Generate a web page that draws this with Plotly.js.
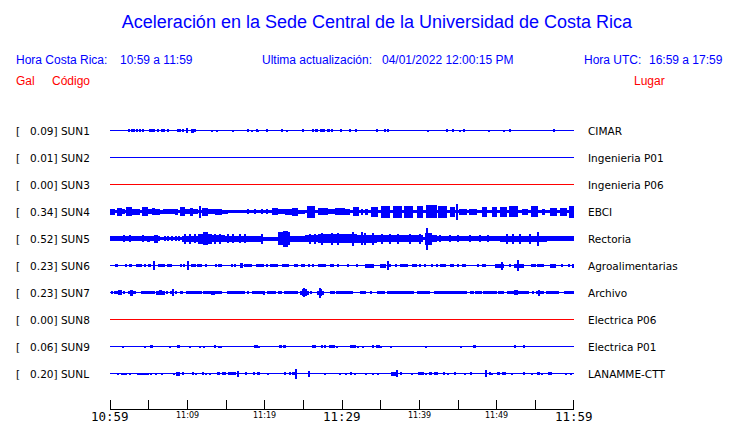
<!DOCTYPE html>
<html>
<head>
<meta charset="utf-8">
<script src="https://cdn.plot.ly/plotly-3.0.1.min.js"></script>
<style>html,body{margin:0;padding:0;background:#fff;}</style>
</head>
<body>
<div id="chart" style="width:740px;height:423px;"></div>
<script>
// ---- data ----
const stations = ['SUN1','SUN2','SUN3','SUN4','SUN5','SUN6','SUN7','SUN8','SUN9','SUNL'];
const galValues = ['0.09','0.01','0.00','0.34','0.52','0.23','0.23','0.00','0.06','0.20'];
const places = ['CIMAR','Ingenieria P01','Ingenieria P06','EBCI','Rectoria','Agroalimentarias','Archivo','Electrica P06','Electrica P01','LANAMME-CTT'];
const tickMarks = [0,5,10,15,20,25,30,35,40,45,50,55,60];          // minutes after 10:59
const tickMinutes = [0,10,20,30,40,50,60];
const tickLabels = ['10:59','11:09','11:19','11:29','11:39','11:49','11:59'];
const bigLabels = ['10:59','11:29','11:59'];

// signal activity: [minute, half-amplitude] or [from minute, to minute, half-amplitude]
const SUN1 = [[2.50,1.5],[2.80,1.5],[3.06,1.5],[3.53,1.5],[3.92,1.5],[4.31,1.5],[5.09,5.82,1.5],[6.25,1.5],[6.77,1.5],[7.03,1.5],[7.46,1.5],[8.84,1.5],[9.05,1.5],[9.40,1.5],[9.91,10.13,2.5],[10.47,10.82,2],[11.03,1.5],[13.23,1],[13.84,1],[15.95,1],[17.80,1.5],[18.36,1],[18.97,1.5],[19.14,1],[20.26,1.5],[22.20,1.5],[22.93,1],[25.00,1.5],[26.21,1.5],[26.55,26.85,1.5],[27.16,27.80,1.5],[28.15,1.5],[28.32,1.5],[28.75,1.5],[29.78,30.04,1.5],[31.08,1.5],[31.81,1.5],[34.57,1.5],[35.56,1.5],[35.91,1.5],[41.16,1],[43.62,1.5],[44.40,1.5],[45.30,1],[45.82,1.5],[49.05,1],[50.99,1],[51.72,1.5],[57.46,1.5]];
const SUN2 = [];
const SUN3 = [];
const SUN4 = [[0,60,1.5],[0,0.65,3],[0.86,1.51,4],[1.51,1.94,2.5],[2.03,2.80,4.5],[2.80,3.15,3],[3.15,3.88,3],[4.09,4.96,4.5],[4.96,5.39,2.5],[5.39,5.82,3.5],[5.82,6.47,3],[6.47,6.90,2],[6.90,7.54,2.5],[7.54,8.41,2.5],[8.41,8.84,3],[9.05,9.70,4.5],[9.70,10.34,2.5],[10.34,10.78,4],[10.78,11.42,2.5],[11.68,6],[11.85,12.72,4],[12.72,13.58,2.5],[13.58,14.44,3],[14.44,15.30,2],[17.89,2.5],[18.75,2.5],[19.61,2.5],[20.26,2.5],[20.91,21.77,3.5],[21.77,22.63,2.5],[22.63,23.49,3],[23.49,24.35,4],[24.35,25.22,2],[25.43,26.51,6],[26.94,28.23,3.5],[28.23,29.09,2.5],[29.09,30.39,3.5],[30.39,31.03,3],[31.38,32.24,4.5],[32.54,32.76,3],[32.97,33.41,3],[33.71,34.70,5],[35.00,36.21,6],[36.64,37.72,6],[38.02,39.22,6],[39.66,40.52,6],[40.86,42.24,6.5],[42.46,43.53,6],[43.97,44.61,5],[44.91,8],[45.17,46.12,3],[46.47,47.41,3],[48.06,48.71,5],[49.35,50.00,5],[50.43,51.29,5],[51.64,52.80,5.5],[53.23,54.09,3],[54.40,55.39,5.5],[55.82,56.25,3],[56.90,57.76,4],[58.19,59.05,4],[59.40,60,6]];
const SUN5 = [[0,60,1.5],[0,6.47,2.5],[1.85,3.5],[2.59,3.5],[4.31,3.5],[4.74,5.17,3],[5.73,6.25,4],[7.11,2.5],[7.54,2.5],[7.97,2.5],[8.49,2.5],[8.92,2.5],[9.27,11.42,3],[9.70,5],[10.34,5],[10.99,4.5],[11.42,13.15,5],[12.07,12.72,6.5],[13.15,14.87,3.5],[13.58,5],[14.22,5],[14.87,18.32,3],[15.22,4.5],[15.95,4.5],[16.81,4.5],[17.46,4.5],[18.32,19.61,3],[19.61,5],[19.61,21.77,2],[21.77,23.28,6.5],[22.41,23.06,8],[23.28,25.22,3],[25.22,26.94,3.5],[25.86,5],[26.51,5],[26.94,30.60,4.5],[27.37,6],[28.66,6],[29.53,6],[30.60,31.90,4.5],[31.47,7],[32.54,6.5],[32.97,6],[31.90,34.48,4],[34.05,6],[34.48,40.52,3.5],[35.13,5],[36.21,5],[37.28,5],[38.79,5],[40.09,5],[40.73,41.59,6],[41.03,11],[41.59,42.24,3.5],[42.24,50.43,2.5],[42.67,3.5],[43.97,3.5],[45.04,3.5],[46.55,3.5],[47.84,3.5],[48.92,3.5],[50.43,56.47,3],[51.29,5],[52.16,5],[53.02,5],[54.31,5],[55.39,7],[56.47,60,2.5]];
const SUN6 = [[0.65,1.08,1.5],[2.03,2.20,1.5],[2.46,2.80,1.5],[3.36,4.09,1.5],[4.44,4.61,1.5],[4.96,5.26,1.5],[5.65,4.3],[6.16,7.11,1.5],[7.37,7.97,1.5],[9.09,9.27,1.5],[9.53,9.70,1.5],[10.13,4.3],[10.47,11.08,1.5],[11.25,11.85,1.5],[12.28,12.54,1.5],[13.58,13.75,1.5],[14.01,14.18,1.5],[14.35,14.53,1.5],[15.65,15.82,1.5],[16.08,16.34,1.5],[16.81,17.24,2.2],[17.37,18.41,1.5],[18.84,19.87,1.5],[20.22,20.47,1.5],[20.73,21.77,1.5],[22.28,23.15,1.5],[23.75,24.27,1.5],[24.70,25.22,1.5],[25.73,25.91,1.5],[26.16,26.34,1.5],[26.85,27.97,1.5],[28.49,28.92,1.5],[29.44,29.61,1.5],[30.65,30.91,1.5],[31.85,32.11,1.5],[32.97,34.09,2],[34.96,35.73,2],[35.91,4.3],[36.08,36.25,1.5],[36.94,37.11,1.5],[37.54,38.49,1.5],[39.01,39.70,1.5],[40.04,40.22,1.5],[40.56,40.91,1.5],[41.51,41.77,1.5],[42.11,42.37,1.5],[42.63,43.41,1.5],[44.01,44.44,1.5],[44.96,45.13,1.5],[45.56,45.99,1.5],[47.46,47.72,1.5],[48.15,48.66,1.5],[49.78,50.99,2],[50.73,4],[51.59,51.85,1.5],[52.28,53.49,2],[52.80,5.5],[54.44,55.04,1.5],[55.22,56.16,1.5],[56.94,57.72,2],[58.32,58.58,1.5],[59.18,59.44,1.5],[59.90,2]];
const SUN7 = [[0.13,0.30,1.5],[0.56,0.99,1.5],[1.08,1.51,2.5],[1.68,1.94,1.5],[2.28,3.32,1.5],[2.60,3.00,3],[4.01,5.82,1.5],[5.91,7.11,2],[6.30,6.70,2.5],[7.37,7.54,1.5],[7.80,7.97,1.5],[8.19,3.5],[8.49,8.66,1.5],[9.09,9.44,1.5],[9.87,11.85,1.5],[12.03,14.44,1.5],[13.06,13.58,2],[15.13,17.46,1.5],[17.80,17.97,1.5],[18.32,19.78,1.5],[19.96,2],[20.30,21.51,1.5],[21.77,22.28,1.5],[22.54,24.35,1.5],[24.53,25.73,2],[24.78,25.47,3.5],[25.05,25.20,4.5],[25.91,26.16,1.5],[26.77,27.63,2],[27.00,27.40,3.5],[27.20,5],[28.49,29.09,1.5],[29.27,31.42,1.5],[32.28,33.15,1.5],[33.58,33.92,1.5],[34.53,35.56,1.5],[35.82,39.27,1.5],[39.70,41.34,1.5],[41.85,46.16,1.5],[46.51,47.03,1.5],[47.20,48.06,1.5],[48.23,50.04,1.5],[50.22,50.91,1.5],[51.34,54.18,1.5],[52.28,52.80,2.5],[54.61,54.78,1.5],[55.04,56.08,1.5],[55.30,55.60,3],[56.34,58.06,1.5],[58.66,60,1.5]];
const SUN8 = [];
const SUN9 = [[1.68,1],[4.53,1],[5.17,5.56,1.5],[7.80,1],[8.66,9.01,1.5],[10.39,1],[11.59,1],[12.11,1],[13.49,13.75,1.5],[14.09,1],[14.35,1],[18.66,19.09,1.5],[19.27,1],[21.85,22.20,1.5],[22.37,22.72,1.5],[26.16,26.59,1.5],[27.37,27.54,1.5],[27.80,27.97,1.5],[28.32,29.09,1.5],[29.35,1],[31.08,31.77,1.5],[32.03,1],[32.72,1],[33.92,34.09,1.5],[34.35,34.87,1.5],[35.04,1],[36.34,1],[40.91,0.8],[45.39,1],[46.94,47.37,1.5],[52.28,52.46,1.5],[53.49,53.66,1.2]];
const SUNL = [[1.08,1],[1.51,1],[1.85,1],[2.11,1],[2.63,1],[3.66,1],[3.92,1],[4.18,1],[4.44,1],[4.70,1],[4.96,1],[5.30,1],[5.99,1],[6.77,1],[8.32,1],[8.58,9.01,2],[9.44,1.5],[10.65,10.82,1.5],[11.16,1],[11.94,12.20,1.5],[12.46,1],[12.89,1],[13.84,14.27,1.5],[14.53,15.04,1.5],[15.30,16.25,1.5],[16.59,3],[17.46,17.63,1.5],[18.58,18.75,1.5],[19.01,19.44,1.5],[20.39,1],[22.46,22.72,1.5],[23.15,23.32,1.5],[23.58,24.18,1.5],[24.01,5],[25.73,3],[27.80,1],[29.78,1],[30.56,1],[31.08,31.25,1.5],[31.68,1],[33.06,1],[34.01,1],[34.70,1],[36.34,36.94,2],[37.11,3.5],[37.46,37.80,1.5],[39.01,1],[39.87,40.56,1.5],[40.82,1],[41.25,41.59,1.5],[41.94,42.37,1.5],[43.15,43.32,1.5],[43.75,1],[44.61,44.78,1.5],[45.91,1],[46.59,46.77,1.5],[48.49,48.75,1.5],[48.66,3.5],[49.01,49.18,1.5],[49.44,1],[50.04,50.39,1.5],[50.73,51.16,1.5],[51.94,1],[53.49,53.66,1.5],[54.61,1],[55.22,55.65,1.5],[55.91,1],[56.59,57.11,1.5],[58.92,1],[59.61,1]];
const activity = [SUN1,SUN2,SUN3,SUN4,SUN5,SUN6,SUN7,SUN8,SUN9,SUNL];

// ---- layout geometry (pixels) ----
const W = 740, H = 423;
const L = 110, R = 574, T = 115, B = 409;
const rowTop = 130.5, rowStep = 27;
const px2x = px => (px - L) / (R - L);
const py2y = py => (B - py) / (B - T);
const blue = '#0000ff', red = '#ff0000';

const traces = [];
stations.forEach((s, i) => {
  const c = -(rowTop - T + rowStep * i);
  const col = galValues[i] === '0.00' ? red : blue;
  traces.push({type:'scatter', mode:'lines', x:[0,60], y:[c,c], line:{color:col, width:1}, hoverinfo:'skip'});
  const ev = activity[i];
  if (ev.length) {
    const x = [], w = [], b = [], h = [];
    ev.forEach(e => {
      const t0 = e[0], t1 = e.length === 3 ? e[1] : e[0], a = e[e.length - 1];
      const wd = Math.max(t1 - t0, 0.12);
      x.push((t0 + t1) / 2); w.push(wd); b.push(c - a); h.push(2 * a);
    });
    traces.push({type:'bar', x:x, y:h, base:b, width:w, marker:{color:col, line:{width:0}}, hoverinfo:'skip'});
  }
});

const ann = [];
const sans = 'Liberation Sans, Arial, sans-serif';
const dv = 'DejaVu Sans, sans-serif';
function txt(text, px, py, color, size, family, anchor) {
  ann.push({text:text, xref:'paper', yref:'paper', x:px2x(px), y:py2y(py), xanchor:anchor || 'left', yanchor:'middle',
    showarrow:false, font:{family:family || sans, size:size, color:color}});
}
txt('Hora Costa Rica:', 14, 60, blue, 12);
txt('10:59 a 11:59', 118, 60, blue, 12);
txt('Ultima actualización:', 260, 60, blue, 12);
txt('04/01/2022 12:00:15 PM', 380, 60, blue, 12);
txt('Hora UTC:', 582, 60, blue, 12);
txt('16:59 a 17:59', 725, 60, blue, 12, sans, 'right');
txt('Gal', 14, 81, red, 12);
txt('Código', 50, 81, red, 12);
txt('Lugar', 632, 81, red, 12);
stations.forEach((s, i) => {
  const py = rowTop + rowStep * i;
  txt('[\u00a0\u00a0\u00a0' + galValues[i] + '] ' + s, 14, py, 'black', 10.5, dv);
  txt(places[i], 586, py, 'black', 10.5, dv);
});
tickMinutes.forEach((m, k) => {
  const big = bigLabels.indexOf(tickLabels[k]) >= 0;
  ann.push({text:tickLabels[k], xref:'x', yref:'paper', x:m, y:py2y(big ? 416 : 415.5), xanchor:'center', yanchor:'middle',
    showarrow:false, font:{family: big ? 'DejaVu Sans Mono, monospace' : dv, size: big ? 12.5 : 8, color:'black'}});
});

// ticks at both ends of the time axis (Plotly hides ticks sitting on the plot edge)
const edgeTicks = [0.5 / (R - L), 1 - 0.5 / (R - L)].map(v => ({
  type:'line', xref:'paper', yref:'paper', x0:v, x1:v, y0:0, y1:9/(B-T), line:{color:'black', width:1}
}));

const layout = {
  width:W, height:H, margin:{l:L, r:W-R, t:T, b:H-B, pad:0},
  paper_bgcolor:'#ffffff', plot_bgcolor:'#ffffff', showlegend:false,
  barmode:'overlay', bargap:0, bargroupgap:0,
  title:{text:'Aceleración en la Sede Central de la Universidad de Costa Rica',
    font:{family:sans, size:18, color:blue}, x:377/W, xanchor:'center', y:1 - 22/H, yanchor:'middle'},
  xaxis:{range:[0,60], showgrid:false, zeroline:false, showline:true, linecolor:'black', linewidth:1,
    ticks:'inside', ticklen:9, tickwidth:1, tickcolor:'black', tickmode:'array', tickvals:tickMarks,
    showticklabels:false, fixedrange:true},
  yaxis:{range:[-(B-T),0], visible:false, showgrid:false, zeroline:false, fixedrange:true},
  shapes:edgeTicks,
  annotations:ann
};
Plotly.newPlot('chart', traces, layout, {displayModeBar:false, responsive:false});
</script>
</body>
</html>
